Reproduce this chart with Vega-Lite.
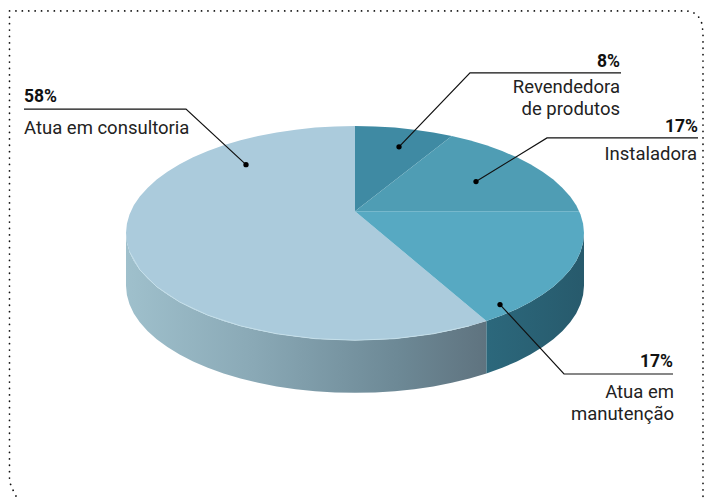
{"$schema":"https://vega.github.io/schema/vega-lite/v6.json","width":707,"height":501,"autosize":{"type":"fit","contains":"padding"},"padding":0,"background":"white","view":{"stroke":null},
"datasets":{
"sideC":[{"x":486.4,"y":323.5,"y2":376.5},{"x":469.5,"y":328.5,"y2":381.5},{"x":451.8,"y":332.9,"y2":385.9},{"x":433.3,"y":336.5,"y2":389.5},{"x":414.3,"y":339.3,"y2":392.3},{"x":394.8,"y":341.4,"y2":394.4},{"x":375,"y":342.6,"y2":395.6},{"x":355,"y":343,"y2":396},{"x":335,"y":342.6,"y2":395.6},{"x":315.2,"y":341.4,"y2":394.4},{"x":295.7,"y":339.3,"y2":392.3},{"x":276.7,"y":336.5,"y2":389.5},{"x":258.2,"y":332.9,"y2":385.9},{"x":240.5,"y":328.5,"y2":381.5},{"x":223.6,"y":323.5,"y2":376.5},{"x":207.8,"y":317.7,"y2":370.7},{"x":193.1,"y":311.4,"y2":364.4},{"x":179.6,"y":304.4,"y2":357.4},{"x":167.4,"y":296.9,"y2":349.9},{"x":156.7,"y":289,"y2":342},{"x":147.5,"y":280.6,"y2":333.6},{"x":139.8,"y":271.9,"y2":324.9},{"x":133.8,"y":263,"y2":316},{"x":129.5,"y":253.8,"y2":306.8},{"x":126.9,"y":244.4,"y2":297.4},{"x":126,"y":235,"y2":288}],
"sideM":[{"x":584,"y":235,"y2":288},{"x":583.1,"y":244.4,"y2":297.4},{"x":580.5,"y":253.8,"y2":306.8},{"x":576.2,"y":263,"y2":316},{"x":570.2,"y":271.9,"y2":324.9},{"x":562.5,"y":280.6,"y2":333.6},{"x":553.3,"y":289,"y2":342},{"x":542.6,"y":296.9,"y2":349.9},{"x":530.4,"y":304.4,"y2":357.4},{"x":516.9,"y":311.4,"y2":364.4},{"x":502.2,"y":317.7,"y2":370.7},{"x":486.4,"y":323.5,"y2":376.5}],
"faces":[
{"s":"consultoria","i":0,"x":355,"y":213},{"s":"consultoria","i":1,"x":486.4,"y":323.5},{"s":"consultoria","i":2,"x":469.5,"y":328.5},{"s":"consultoria","i":3,"x":451.8,"y":332.9},{"s":"consultoria","i":4,"x":433.3,"y":336.5},{"s":"consultoria","i":5,"x":414.3,"y":339.3},{"s":"consultoria","i":6,"x":394.8,"y":341.4},{"s":"consultoria","i":7,"x":375,"y":342.6},{"s":"consultoria","i":8,"x":355,"y":343},{"s":"consultoria","i":9,"x":335,"y":342.6},{"s":"consultoria","i":10,"x":315.2,"y":341.4},{"s":"consultoria","i":11,"x":295.7,"y":339.3},{"s":"consultoria","i":12,"x":276.7,"y":336.5},{"s":"consultoria","i":13,"x":258.2,"y":332.9},{"s":"consultoria","i":14,"x":240.5,"y":328.5},{"s":"consultoria","i":15,"x":223.6,"y":323.5},{"s":"consultoria","i":16,"x":207.8,"y":317.7},{"s":"consultoria","i":17,"x":193.1,"y":311.4},{"s":"consultoria","i":18,"x":179.6,"y":304.4},{"s":"consultoria","i":19,"x":167.4,"y":296.9},{"s":"consultoria","i":20,"x":156.7,"y":289},{"s":"consultoria","i":21,"x":147.5,"y":280.6},{"s":"consultoria","i":22,"x":139.8,"y":271.9},{"s":"consultoria","i":23,"x":133.8,"y":263},{"s":"consultoria","i":24,"x":129.5,"y":253.8},{"s":"consultoria","i":25,"x":126.9,"y":244.4},{"s":"consultoria","i":26,"x":126,"y":235},{"s":"consultoria","i":27,"x":126.9,"y":225.6},{"s":"consultoria","i":28,"x":129.5,"y":216.2},{"s":"consultoria","i":29,"x":133.8,"y":207},{"s":"consultoria","i":30,"x":139.8,"y":198.1},{"s":"consultoria","i":31,"x":147.5,"y":189.4},{"s":"consultoria","i":32,"x":156.7,"y":181},{"s":"consultoria","i":33,"x":167.4,"y":173.1},{"s":"consultoria","i":34,"x":179.6,"y":165.6},{"s":"consultoria","i":35,"x":193.1,"y":158.6},{"s":"consultoria","i":36,"x":207.8,"y":152.3},{"s":"consultoria","i":37,"x":223.6,"y":146.5},{"s":"consultoria","i":38,"x":240.5,"y":141.5},{"s":"consultoria","i":39,"x":258.2,"y":137.1},{"s":"consultoria","i":40,"x":276.7,"y":133.5},{"s":"consultoria","i":41,"x":295.7,"y":130.7},{"s":"consultoria","i":42,"x":315.2,"y":128.6},{"s":"consultoria","i":43,"x":335,"y":127.4},{"s":"consultoria","i":44,"x":355,"y":127},{"s":"consultoria","i":45,"x":355,"y":213},
{"s":"revendedora","i":0,"x":355,"y":213},{"s":"revendedora","i":1,"x":355,"y":127},{"s":"revendedora","i":2,"x":375,"y":127.4},{"s":"revendedora","i":3,"x":394.8,"y":128.6},{"s":"revendedora","i":4,"x":414.3,"y":130.7},{"s":"revendedora","i":5,"x":433.3,"y":133.5},{"s":"revendedora","i":6,"x":451.8,"y":137.1},{"s":"revendedora","i":7,"x":355,"y":213},
{"s":"instaladora","i":0,"x":355,"y":213},{"s":"instaladora","i":1,"x":451.8,"y":137.1},{"s":"instaladora","i":2,"x":469.5,"y":141.5},{"s":"instaladora","i":3,"x":486.4,"y":146.5},{"s":"instaladora","i":4,"x":502.2,"y":152.3},{"s":"instaladora","i":5,"x":516.9,"y":158.6},{"s":"instaladora","i":6,"x":530.4,"y":165.6},{"s":"instaladora","i":7,"x":542.6,"y":173.1},{"s":"instaladora","i":8,"x":553.3,"y":181},{"s":"instaladora","i":9,"x":562.5,"y":189.4},{"s":"instaladora","i":10,"x":570.2,"y":198.1},{"s":"instaladora","i":11,"x":576.2,"y":207},{"s":"instaladora","i":12,"x":579,"y":213},{"s":"instaladora","i":13,"x":355,"y":213},
{"s":"manutencao","i":0,"x":355,"y":213},{"s":"manutencao","i":1,"x":579,"y":213},{"s":"manutencao","i":2,"x":580.5,"y":216.2},{"s":"manutencao","i":3,"x":583.1,"y":225.6},{"s":"manutencao","i":4,"x":584,"y":235},{"s":"manutencao","i":5,"x":583.1,"y":244.4},{"s":"manutencao","i":6,"x":580.5,"y":253.8},{"s":"manutencao","i":7,"x":576.2,"y":263},{"s":"manutencao","i":8,"x":570.2,"y":271.9},{"s":"manutencao","i":9,"x":562.5,"y":280.6},{"s":"manutencao","i":10,"x":553.3,"y":289},{"s":"manutencao","i":11,"x":542.6,"y":296.9},{"s":"manutencao","i":12,"x":530.4,"y":304.4},{"s":"manutencao","i":13,"x":516.9,"y":311.4},{"s":"manutencao","i":14,"x":502.2,"y":317.7},{"s":"manutencao","i":15,"x":486.4,"y":323.5},{"s":"manutencao","i":16,"x":355,"y":213}],
"rim":[{"x":129.5,"y":253.8},{"x":139.8,"y":271.9},{"x":156.7,"y":289},{"x":179.6,"y":304.4},{"x":207.8,"y":317.7},{"x":240.5,"y":328.5},{"x":276.7,"y":336.5},{"x":315.2,"y":341.4},{"x":355,"y":343},{"x":394.8,"y":341.4},{"x":433.3,"y":336.5},{"x":469.5,"y":328.5}],
"border":[{"i":0,"x":16,"y":500},{"i":1,"x":12.5,"y":493},{"i":2,"x":10.5,"y":488},{"i":3,"x":9.5,"y":482},{"i":4,"x":9.5,"y":11},{"i":5,"x":687,"y":11},{"i":6,"x":692,"y":12},{"i":7,"x":697,"y":15},{"i":8,"x":700,"y":19},{"i":9,"x":702,"y":24},{"i":10,"x":703,"y":33},{"i":11,"x":703,"y":501}],
"leaders":[{"k":"a","i":0,"x":24,"y":110},{"k":"a","i":1,"x":186,"y":110},{"k":"a","i":2,"x":246,"y":166},{"k":"b","i":0,"x":621,"y":73.5},{"k":"b","i":1,"x":470,"y":73.5},{"k":"b","i":2,"x":399,"y":148},{"k":"c","i":0,"x":698,"y":139},{"k":"c","i":1,"x":547,"y":139},{"k":"c","i":2,"x":476,"y":183},{"k":"d","i":0,"x":673,"y":377},{"k":"d","i":1,"x":564,"y":377},{"k":"d","i":2,"x":500,"y":307}],
"dots":[{"x":246,"y":166},{"x":399,"y":148},{"x":476,"y":183},{"x":500,"y":307}],
"pctL":[{"t":"58%","x":24,"y":103}],
"pctR":[{"t":"8%","x":620,"y":68},{"t":"17%","x":698,"y":133},{"t":"17%","x":673,"y":370}],
"txtL":[{"t":"Atua em consultoria","x":24,"y":135}],
"txtR":[{"t":"Revendedora","x":620,"y":94},{"t":"de produtos","x":620,"y":116},{"t":"Instaladora","x":697,"y":161},{"t":"Atua em","x":674,"y":401},{"t":"manutenção","x":674,"y":423}]
},
"encoding":{"x":{"field":"x","type":"quantitative","axis":null,"scale":{"domain":[0,707],"nice":false,"zero":false}},"y":{"field":"y","type":"quantitative","axis":null,"scale":{"domain":[501,0],"nice":false,"zero":false}}},
"layer":[
{"data":{"name":"sideC"},"mark":{"type":"area","fill":{"gradient":"linear","x1":0,"x2":1,"y1":0,"y2":0,"stops":[{"offset":0,"color":"#9fc0cc"},{"offset":0.35,"color":"#8aa9b6"},{"offset":0.75,"color":"#6d8996"},{"offset":1,"color":"#5f737f"}]}},"encoding":{"y2":{"field":"y2"}}},
{"data":{"name":"sideM"},"mark":{"type":"area","fill":{"gradient":"linear","x1":0,"x2":1,"y1":0,"y2":0,"stops":[{"offset":0,"color":"#2c687c"},{"offset":1,"color":"#275a6c"}]}},"encoding":{"y2":{"field":"y2"}}},
{"data":{"name":"faces"},"mark":{"type":"line","strokeWidth":0},"encoding":{"order":{"field":"i","type":"quantitative"},"fill":{"field":"s","type":"nominal","legend":null,"scale":{"domain":["consultoria","revendedora","instaladora","manutencao"],"range":["#abcbdc","#3f8aa3","#4f9db4","#57a9c2"]}}}},
{"data":{"name":"rim"},"mark":{"type":"line","stroke":"#c8e2ec","strokeWidth":1,"opacity":0.8}},
{"data":{"name":"border"},"mark":{"type":"line","stroke":"#111111","strokeWidth":1.7,"strokeCap":"round","strokeDash":[0.1,6.3]},"encoding":{"order":{"field":"i","type":"quantitative"}}},
{"data":{"name":"leaders"},"mark":{"type":"line","stroke":"#111111","strokeWidth":1.2},"encoding":{"order":{"field":"i","type":"quantitative"},"detail":{"field":"k"}}},
{"data":{"name":"dots"},"mark":{"type":"point","filled":true,"fill":"#000000","opacity":1,"size":28}},
{"data":{"name":"pctL"},"mark":{"type":"text","font":"Roboto","fontWeight":"bold","fontSize":17.5,"align":"left","baseline":"alphabetic","color":"#111111"},"encoding":{"text":{"field":"t"}}},
{"data":{"name":"pctR"},"mark":{"type":"text","font":"Roboto","fontWeight":"bold","fontSize":17.5,"align":"right","baseline":"alphabetic","color":"#111111"},"encoding":{"text":{"field":"t"}}},
{"data":{"name":"txtL"},"mark":{"type":"text","font":"Roboto","fontSize":18.5,"align":"left","baseline":"alphabetic","color":"#222222"},"encoding":{"text":{"field":"t"}}},
{"data":{"name":"txtR"},"mark":{"type":"text","font":"Roboto","fontSize":18.5,"align":"right","baseline":"alphabetic","color":"#222222"},"encoding":{"text":{"field":"t"}}}
]}
